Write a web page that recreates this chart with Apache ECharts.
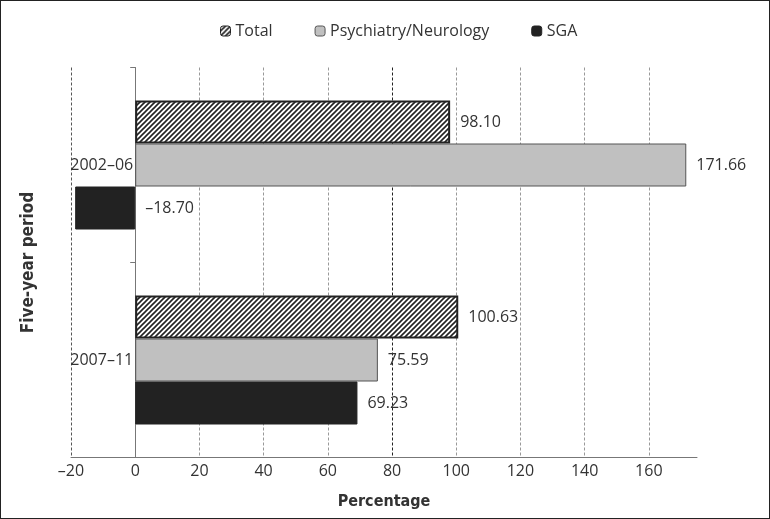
<!DOCTYPE html>
<html>
<head>
<meta charset="utf-8">
<script src="https://cdn.jsdelivr.net/npm/echarts@6/dist/echarts.min.js"></script>
<style>
html,body{margin:0;padding:0;background:#fff;}
#wrap{width:770px;height:519px;box-sizing:border-box;border:1px solid #222;}
#chart{width:768px;height:517px;}
</style>
</head>
<body>
<div id="wrap"><div id="chart"></div></div>
<script>
var periods = ['2002–06', '2007–11'];
var seriesNames = ['Total', 'Psychiatry/Neurology', 'SGA'];
var totalValues = [98.10, 100.63];
var psychValues = [171.66, 75.59];
var sgaValues = [-18.70, 69.23];
var xTickMin = -20, xTickMax = 175, xTickStep = 20;

function hatch() {
  var c = document.createElement('canvas');
  c.width = 5; c.height = 5;
  var g = c.getContext('2d');
  g.fillStyle = '#fff'; g.fillRect(0, 0, 5, 5);
  g.strokeStyle = '#222'; g.lineWidth = 1.6;
  g.beginPath();
  g.moveTo(-1, 6); g.lineTo(6, -1);
  g.moveTo(-1, 1); g.lineTo(1, -1);
  g.moveTo(4, 6); g.lineTo(6, 4);
  g.stroke();
  return c;
}

var FONT = "'Open Sans', sans-serif";
var TITLEFONT = "'Liberation Sans Narrow', 'DejaVu Sans Condensed', sans-serif";
var fmt = function (v) { return (v < 0 ? '–' : '') + Math.abs(v).toFixed(2); };
var labelCfg = {show: true, position: 'right', distance: 10, fontSize: 16, color: '#333', fontFamily: FONT,
  formatter: function (p) { return fmt(p.value); }};

var gridLeft = 70, gridWidth = 626;
// place the category axis on the zero value of the x axis
var zeroOffset = -gridWidth * (0 - xTickMin) / (xTickMax - xTickMin);

var chart = echarts.init(document.getElementById('chart'));
chart.setOption({
  animation: false,
  legend: {
    top: 17, left: 214, itemWidth: 10, itemHeight: 10, itemGap: 42,
    textStyle: {fontSize: 16, color: '#333', fontFamily: FONT},
    itemStyle: {borderWidth: 1},
    data: seriesNames
  },
  grid: {left: gridLeft, top: 66.5, width: gridWidth, height: 390, outerBoundsMode: 'none', containLabel: false},
  xAxis: {
    type: 'value', min: xTickMin, max: xTickMax, interval: xTickStep,
    axisLine: {show: true, lineStyle: {color: '#777'}},
    axisTick: {show: false},
    axisLabel: {margin: 6, fontSize: 16, color: '#333', fontFamily: FONT, showMaxLabel: false,
      formatter: function (v) { return v % 20 === 0 ? (v < 0 ? '–' + Math.abs(v) : String(v)) : ''; }},
    splitLine: {show: true, showMaxLine: false,
      lineStyle: {type: [3, 2], width: 1,
        color: ['#555', '#999', '#999', '#999', '#999', '#222', '#999', '#999', '#999', '#999', '#999']}},
    name: 'Percentage', nameLocation: 'middle', nameGap: 36, nameMoveOverlap: false,
    nameTextStyle: {fontSize: 16, fontWeight: 'bold', color: '#333', fontFamily: TITLEFONT, verticalAlign: 'top'}
  },
  yAxis: {
    type: 'category', data: periods, inverse: true, position: 'left', offset: zeroOffset,
    axisLine: {show: true, onZero: false, lineStyle: {color: '#777'}},
    axisTick: {show: true, length: 5, lineStyle: {color: '#777'}},
    axisLabel: {margin: 2, fontSize: 16, color: '#333', fontFamily: FONT,
      verticalAlign: 'middle', lineHeight: 16, padding: [0, 0, 8, 0]},
    splitLine: {show: false},
    name: 'Five-year period', nameLocation: 'middle', nameGap: 98, nameRotate: 90, nameMoveOverlap: false,
    nameTextStyle: {fontSize: 17, fontWeight: 'bold', color: '#333', fontFamily: TITLEFONT}
  },
  series: [
    {name: seriesNames[0], type: 'bar', data: totalValues,
     barWidth: 43, barGap: '0%',
     itemStyle: {color: {image: hatch(), repeat: 'repeat'}, borderColor: '#222', borderWidth: 2},
     label: labelCfg},
    {name: seriesNames[1], type: 'bar', data: psychValues,
     barWidth: 43, barGap: '0%',
     itemStyle: {color: '#c0c0c0', borderColor: '#555', borderWidth: 1},
     label: labelCfg},
    {name: seriesNames[2], type: 'bar', data: sgaValues,
     barWidth: 43, barGap: '0%',
     itemStyle: {color: '#222', borderColor: '#222', borderWidth: 1},
     label: labelCfg}
  ]
});
</script>
</body>
</html>
